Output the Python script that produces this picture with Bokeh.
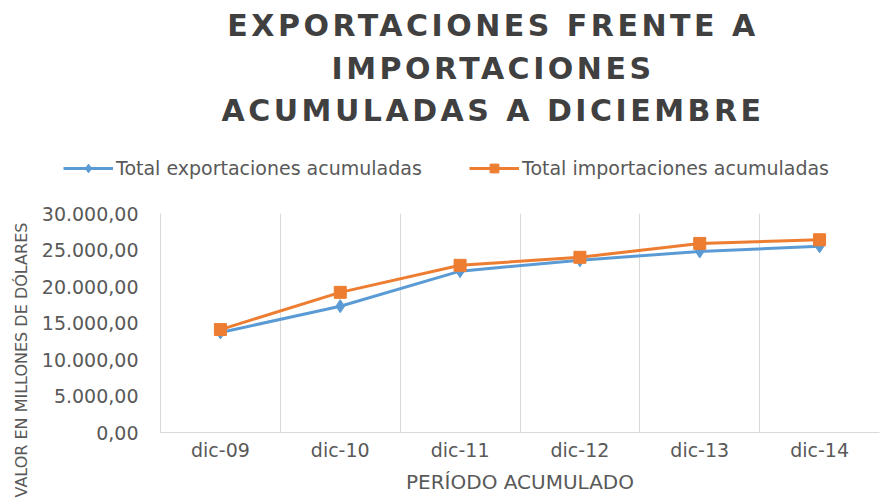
import math
from bokeh.plotting import figure
from bokeh.models import Div, Legend, LegendItem, FixedTicker, Range1d, Title
from bokeh.layouts import column
from bokeh.embed import file_html
from bokeh.resources import INLINE

categories = ["dic-09", "dic-10", "dic-11", "dic-12", "dic-13", "dic-14"]
exportaciones = [13700, 17300, 22100, 23600, 24800, 25500]
importaciones = [14100, 19200, 22900, 24000, 25900, 26400]
y_ticks = [0, 5000, 10000, 15000, 20000, 25000, 30000]
y_tick_labels = ["0,00", "5.000,00", "10.000,00", "15.000,00", "20.000,00", "25.000,00", "30.000,00"]
title_lines = ["EXPORTACIONES FRENTE A", "IMPORTACIONES", "ACUMULADAS A DICIEMBRE"]
x_title = "PERÍODO ACUMULADO"
y_title = "VALOR EN MILLONES DE DÓLARES"
series_names = ["Total exportaciones acumuladas", "Total importaciones acumuladas"]

BLUE = "#5B9BD5"
ORANGE = "#ED7D31"
TEXT = "#595959"
GRID = "#d9d9d9"
FONT = "DejaVu Sans"
W = 880
FRAME_LEFT = 160

xs = [i + 0.5 for i in range(len(categories))]

# ---- title (HTML, letter-spaced) ----
title_html = (
    '<div style="position:relative; top:5px; box-sizing:border-box; width:880px; padding-left:106px; '
    'text-align:center; font-family:\'DejaVu Sans\'; font-weight:bold; font-size:30px; letter-spacing:3.5px; '
    'line-height:42.5px; color:#404040; white-space:nowrap;">'
    + "<br>".join(title_lines) + "</div>"
)
title_div = Div(text=title_html, width=W, height=121, margin=(0, 0, 0, 0))

# ---- legend strip (own small plot, series drawn outside its visible range) ----
lg = figure(width=W, height=70, output_backend="svg", toolbar_location=None,
            x_range=Range1d(-10, -9), y_range=Range1d(-10, -9),
            x_axis_location=None, y_axis_location=None,
            min_border_left=0, min_border_right=0, min_border_top=0, min_border_bottom=0)
lg.outline_line_color = None
lg.background_fill_color = None
lg.border_fill_color = None
lg.xgrid.visible = False
lg.ygrid.visible = False

aligned_off = False
if "frame_align" in lg.properties():
    lg.frame_align = False
    aligned_off = True

g1 = lg.line(xs, exportaciones, line_color=BLUE, line_width=3)
s1 = lg.scatter(xs, exportaciones, marker="diamond", size=11, fill_color=BLUE, line_color=BLUE)
g2 = lg.line(xs, importaciones, line_color=ORANGE, line_width=3)
s2 = lg.scatter(xs, importaciones, marker="square", size=10, fill_color=ORANGE, line_color=ORANGE)
legend_x = 63 if aligned_off else 63 - FRAME_LEFT
legend = Legend(items=[LegendItem(label=series_names[0], renderers=[g1, s1]),
                       LegendItem(label=series_names[1], renderers=[g2, s2])],
                location=(legend_x, 12), orientation="horizontal",
                glyph_width=50, glyph_height=22, label_height=22, label_width=322,
                label_standoff=3, spacing=31, padding=0, margin=0,
                label_text_font=FONT, label_text_font_size="19px", label_text_color=TEXT,
                border_line_color=None, background_fill_alpha=0)
lg.add_layout(legend, "center")

# ---- main plot ----
p = figure(width=W, height=311, output_backend="svg", toolbar_location=None,
           x_range=Range1d(0, len(categories)), y_range=Range1d(0, 30000),
           min_border_top=22, min_border_bottom=70, min_border_left=FRAME_LEFT, min_border_right=1)
if aligned_off:
    p.frame_align = False
p.outline_line_color = None
p.background_fill_color = "white"
p.border_fill_color = None

p.ygrid.grid_line_color = None
p.xgrid.ticker = FixedTicker(ticks=list(range(1, len(categories))))
p.xgrid.grid_line_color = GRID
p.xgrid.grid_line_width = 1

p.xaxis.ticker = FixedTicker(ticks=xs)
p.xaxis.major_label_overrides = {x: c for x, c in zip(xs, categories)}
p.xaxis.axis_line_color = GRID
p.xaxis.major_tick_line_color = None
p.xaxis.minor_tick_line_color = None
p.xaxis.major_label_text_font = FONT
p.xaxis.major_label_text_font_size = "19px"
p.xaxis.major_label_text_color = TEXT
p.xaxis.major_label_standoff = 0
p.xaxis.axis_label = x_title
p.xaxis.axis_label_text_font = FONT
p.xaxis.axis_label_text_font_style = "normal"
p.xaxis.axis_label_text_font_size = "20px"
p.xaxis.axis_label_text_color = TEXT
p.xaxis.axis_label_standoff = 6

p.yaxis.ticker = FixedTicker(ticks=y_ticks)
p.yaxis.major_label_overrides = {t: l for t, l in zip(y_ticks, y_tick_labels)}
p.yaxis.axis_line_color = GRID
p.yaxis.major_tick_line_color = None
p.yaxis.minor_tick_line_color = None
p.yaxis.major_label_text_font = FONT
p.yaxis.major_label_text_font_size = "19px"
p.yaxis.major_label_text_color = TEXT
p.yaxis.major_label_standoff = 16

p.line(xs, exportaciones, line_color=BLUE, line_width=3)
p.scatter(xs, exportaciones, marker="diamond", size=13, fill_color=BLUE, line_color=BLUE)
p.line(xs, importaciones, line_color=ORANGE, line_width=3)
p.scatter(xs, importaciones, marker="square", size=12, fill_color=ORANGE, line_color=ORANGE)

ytitle = Title(text=y_title, align="left", offset=-65, standoff=16,
               text_font=FONT, text_font_size="16px", text_font_style="normal", text_color=TEXT)
p.add_layout(ytitle, "left")

layout = column(title_div, lg, p, spacing=0)
open("out.html", "w").write(file_html(layout, INLINE))
